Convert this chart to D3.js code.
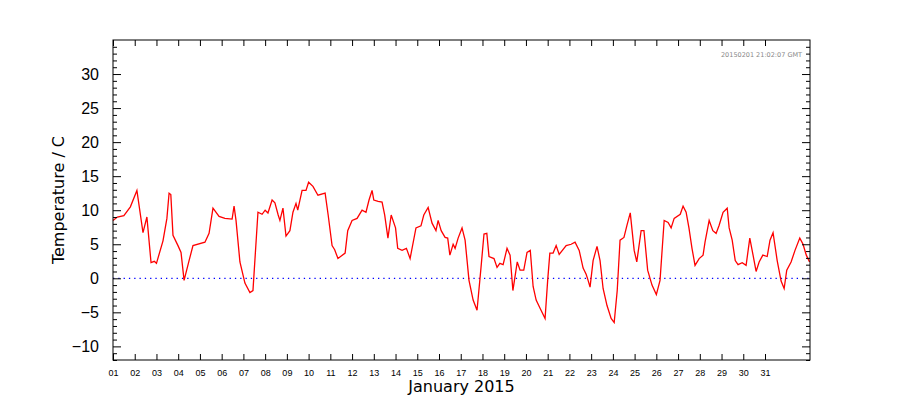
<!DOCTYPE html>
<html><head><meta charset="utf-8">
<script src="https://cdn.jsdelivr.net/npm/d3@7"></script>
<style>body{margin:0;background:#fff}svg{font-family:"DejaVu Sans",sans-serif}</style>
</head><body><svg id="c" width="900" height="400"></svg>
<script>
// day of month (fractional), temperature in C
var days = [1.0,1.2,1.5,1.8,2.1,2.38,2.56,2.75,2.9,3.0,3.3,3.48,3.58,3.66,3.76,3.99,4.13,4.27,4.5,4.68,5.23,5.42,5.6,5.88,6.15,6.48,6.57,6.66,6.84,7.07,7.3,7.44,7.67,7.86,8.0,8.13,8.32,8.45,8.6,8.68,8.82,8.96,9.14,9.28,9.42,9.5,9.7,9.88,10.0,10.2,10.43,10.76,10.9,11.08,11.2,11.35,11.68,11.8,12.0,12.23,12.46,12.64,12.78,12.92,13.0,13.2,13.38,13.5,13.65,13.8,14.0,14.1,14.3,14.5,14.67,14.94,15.17,15.3,15.5,15.68,15.86,15.96,16.1,16.28,16.4,16.5,16.65,16.74,16.88,17.06,17.2,17.38,17.57,17.75,17.93,18.07,18.2,18.3,18.53,18.67,18.8,18.95,19.13,19.27,19.4,19.6,19.73,19.9,20.05,20.2,20.33,20.47,20.65,20.88,21.0,21.1,21.25,21.39,21.53,21.85,22.08,22.26,22.45,22.63,22.77,22.86,22.95,23.09,23.27,23.41,23.55,23.73,23.92,24.06,24.2,24.33,24.51,24.65,24.8,24.98,25.1,25.3,25.43,25.6,25.8,26.0,26.17,26.36,26.54,26.68,26.82,27.1,27.23,27.37,27.5,27.64,27.78,27.97,28.15,28.24,28.43,28.6,28.75,28.89,29.07,29.26,29.35,29.49,29.63,29.76,29.95,30.13,30.3,30.45,30.59,30.73,30.9,31.1,31.23,31.37,31.56,31.74,31.88,32.0,32.2,32.38,32.6,32.75,32.9,33.05];
var temps = [8.5,9,9.2,10.5,12.9,6.7,9,2.3,2.5,2.2,5.5,8.8,12.5,12.3,6.3,4.8,3.8,-0.3,2.6,4.8,5.3,6.6,10.3,9.1,8.8,8.7,10.6,8.5,2.4,-0.7,-2.1,-1.8,9.7,9.4,10,9.6,11.5,11.1,9.3,8.5,10.3,6.2,7,9.7,11,10,12.9,12.9,14.1,13.5,12.2,12.5,9.3,4.8,4.2,2.9,3.7,7,8.5,8.8,10,9.7,11.5,12.9,11.5,11.3,11.2,9.3,5.9,9.3,7.4,4.4,4.1,4.4,2.9,7.4,7.7,9.3,10.4,8.1,7,8.5,7,6,5.9,3.4,5,4.4,5.9,7.4,5.6,-0.3,-3.2,-4.7,1.5,6.5,6.6,3.2,2.9,1.6,2.2,2,4.4,3.4,-1.8,2.4,1.2,1.2,3.8,4.1,-1.2,-3.2,-4.4,-5.9,-0.3,3.7,3.7,4.8,3.5,4.8,5,5.3,4.1,1.5,0.6,-0.3,-1.3,2.6,4.7,2.6,-1.5,-4,-5.9,-6.5,-1.8,5.6,6,7.8,9.6,4.1,2.4,7,7,1.2,-1,-2.4,-0.3,8.5,8.2,7.4,8.8,9.4,10.6,9.7,7.4,4.4,1.9,2.9,3.4,5.3,8.5,7,6.6,7.8,9.7,10.3,7.4,5.6,2.6,2,2.3,1.9,5.9,3.4,1,2.4,3.4,3.2,5.6,6.7,2.6,-0.4,-1.5,1.2,2.4,4.1,5.9,5,3.4,2.4];
var yTicks = [-10,-5,0,5,10,15,20,25,30];
var dayTicks = d3.range(1, 32);
var stamp = "20150201 21:02:07 GMT";

var svg = d3.select("#c");
var m = {l:113, r:810, t:40, b:360};
var x = d3.scaleLinear().domain([1, 33.07]).range([m.l, m.r]);
var y = d3.scaleLinear().domain([-12, 35]).range([m.b, m.t]);

// zero line
svg.append("line").attr("x1", m.l).attr("x2", m.r).attr("y1", y(0)).attr("y2", y(0))
  .attr("stroke", "#0000ff").attr("stroke-width", 1.3).attr("stroke-dasharray", "1.3 4");

svg.append("path").datum(days.map(function (d, i) { return [d, temps[i]]; }))
  .attr("fill", "none").attr("stroke", "#ff0000").attr("stroke-width", 1.3)
  .attr("d", d3.line().x(function (d) { return x(d[0]); }).y(function (d) { return y(d[1]); }));

// axes with inward ticks
var fmt = function (d) { return d < 10 ? "0" + d : "" + d; };
function ax(gen, tx, ty) { return svg.append("g").attr("transform", "translate(" + tx + "," + ty + ")").call(gen); }
var minorY = d3.range(-12, 36).filter(function (v) { return v % 5 !== 0; });
ax(d3.axisLeft(y).tickValues(yTicks).tickSize(-8).tickPadding(14), m.l, 0)
  .call(function (g) { g.selectAll("text").attr("font-size", 16).attr("fill", "#000"); });
ax(d3.axisLeft(y).tickValues(minorY).tickSize(-4).tickFormat(""), m.l, 0);
ax(d3.axisRight(y).tickValues(yTicks).tickSize(-8).tickFormat(""), m.r, 0);
ax(d3.axisRight(y).tickValues(minorY).tickSize(-4).tickFormat(""), m.r, 0);
ax(d3.axisBottom(x).tickValues(dayTicks).tickSize(-6).tickPadding(10).tickFormat(fmt), 0, m.b)
  .call(function (g) { g.selectAll("text").attr("font-size", 9).attr("fill", "#000"); });
ax(d3.axisTop(x).tickValues(dayTicks).tickSize(-6).tickFormat(""), 0, m.t);
svg.selectAll(".domain").remove();
svg.selectAll(".tick line").attr("stroke", "#000");
svg.append("rect").attr("x", m.l).attr("y", m.t).attr("width", m.r - m.l).attr("height", m.b - m.t)
  .attr("fill", "none").attr("stroke", "#000").attr("stroke-width", 1);

svg.append("text").attr("x", (m.l + m.r) / 2).attr("y", 392).attr("text-anchor", "middle")
  .attr("font-size", 16).text("January 2015");
svg.append("text").attr("transform", "translate(64," + ((m.t + m.b) / 2) + ") rotate(-90)")
  .attr("text-anchor", "middle").attr("font-size", 16).text("Temperature / C");
svg.append("text").attr("x", 802).attr("y", 57).attr("text-anchor", "end")
  .attr("font-size", 6.5).attr("fill", "#888").text(stamp);
</script></body></html>
